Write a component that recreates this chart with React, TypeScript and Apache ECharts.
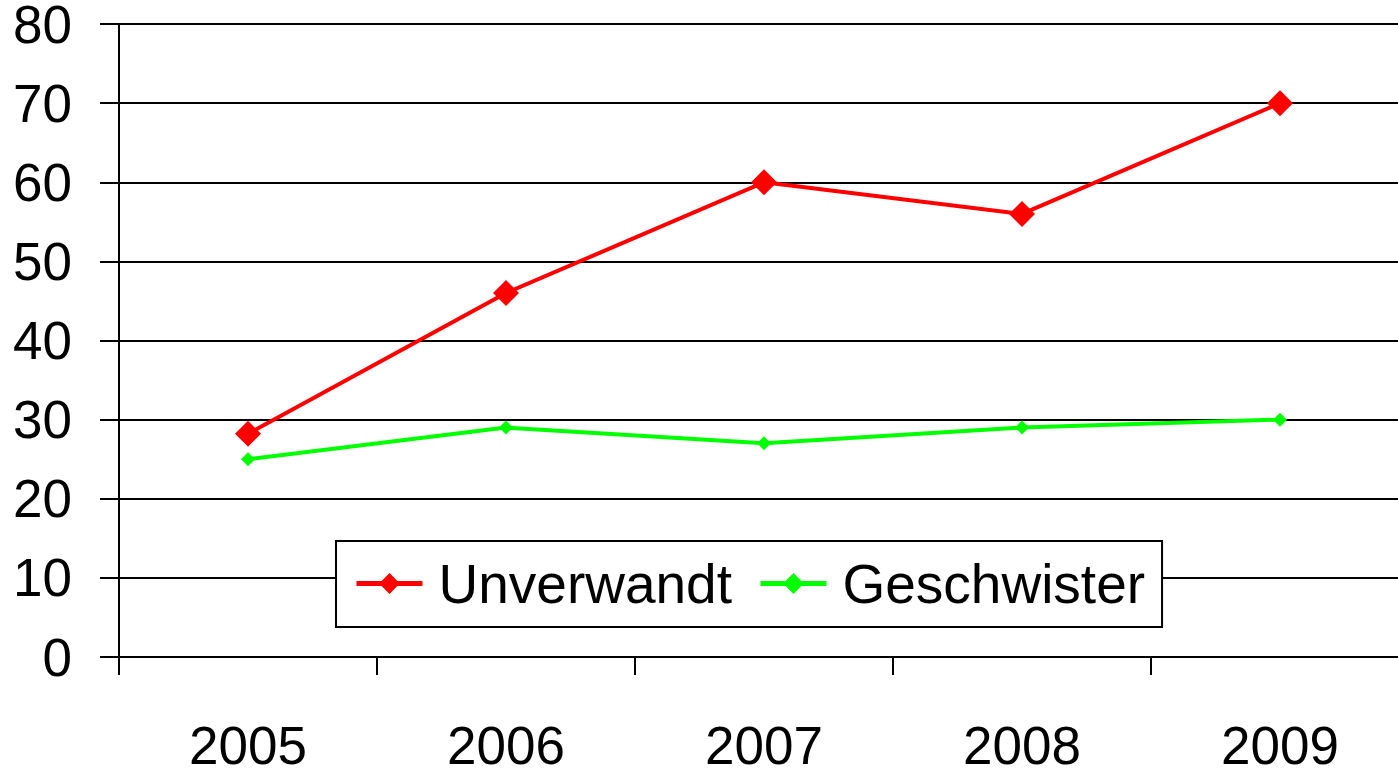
import React, { useEffect, useRef } from "react";
import * as echarts from "echarts";

const years = ["2005", "2006", "2007", "2008", "2009"];
const unverwandt = [28.2, 46, 60, 56, 70];
const geschwister = [25, 29, 27, 29, 30];
const yMin = 0;
const yMax = 80;
const yStep = 10;

const FONT = "'Liberation Sans', Arial, sans-serif";

export default function App() {
  const ref = useRef<HTMLDivElement>(null);
  useEffect(() => {
    document.body.style.overflow = "hidden";
    if (!ref.current) return;
    const chart = echarts.init(ref.current, undefined, { renderer: "svg" });
    chart.setOption({
      animation: false,
      backgroundColor: "#ffffff",
      textStyle: { fontFamily: FONT },
      grid: {
        left: 119,
        top: 24,
        width: 1290,
        height: 633,
        containLabel: false,
        outerBoundsMode: "none",
      },
      xAxis: {
        type: "category",
        data: years,
        boundaryGap: true,
        axisLine: { lineStyle: { color: "#000", width: 2 } },
        axisTick: { show: true, length: 18, lineStyle: { color: "#000", width: 2 } },
        axisLabel: { color: "#000", fontSize: 53, fontFamily: FONT, margin: 62 },
        splitLine: { show: false },
      },
      yAxis: {
        type: "value",
        min: yMin,
        max: yMax,
        interval: yStep,
        axisLine: { show: true, lineStyle: { color: "#000", width: 2 } },
        axisTick: { show: true, length: 19, lineStyle: { color: "#000", width: 2 } },
        axisLabel: { color: "#000", fontSize: 53, fontFamily: FONT, margin: 47 },
        splitLine: { show: true, lineStyle: { color: "#000", width: 2 } },
      },
      legend: {
        left: 336,
        top: 541,
        orient: "horizontal",
        backgroundColor: "#fff",
        borderColor: "#000",
        borderWidth: 2,
        padding: [15, 17, 16, 18],
        itemWidth: 66,
        itemHeight: 26,
        itemGap: 26,
        lineStyle: { width: 5 },
        textStyle: { color: "#000", fontSize: 55, fontFamily: FONT, padding: [0, 0, 0, 11] },
        data: ["Unverwandt", "Geschwister"],
      },
      series: [
        {
          name: "Unverwandt",
          type: "line",
          data: unverwandt,
          symbol: "diamond",
          symbolSize: 26,
          itemStyle: { color: "#ff0000" },
          lineStyle: { color: "#ff0000", width: 4 },
          z: 3,
        },
        {
          name: "Geschwister",
          type: "line",
          data: geschwister,
          symbol: "diamond",
          symbolSize: 14,
          itemStyle: { color: "#00ff00" },
          lineStyle: { color: "#00ff00", width: 4 },
          z: 3,
        },
      ],
    });
    return () => chart.dispose();
  }, []);
  return (
    <div
      ref={ref}
      style={{
        position: "fixed",
        left: 0,
        top: 0,
        width: 1398,
        height: 769,
        overflow: "hidden",
        background: "#fff",
      }}
    />
  );
}
